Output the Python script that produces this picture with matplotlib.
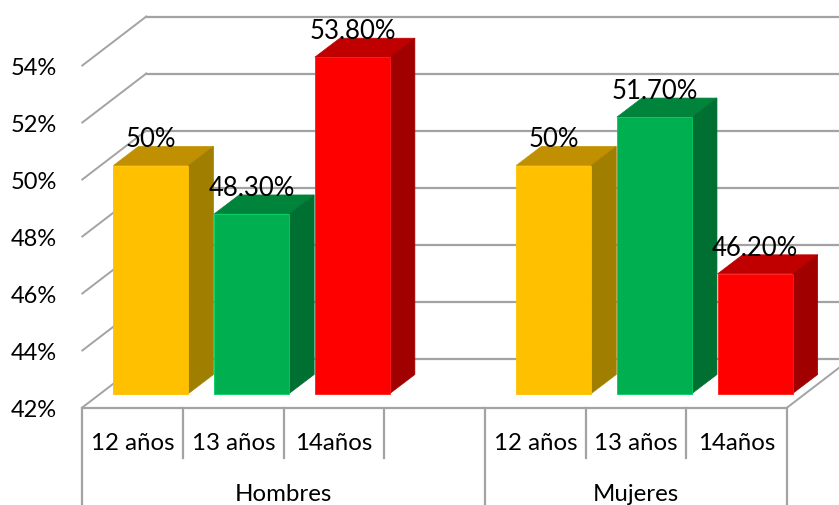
import matplotlib
matplotlib.use("Agg")
import matplotlib.pyplot as plt
from matplotlib.patches import Polygon

plt.rcParams['font.family'] = ['Lato', 'DejaVu Sans']

groups = ["Hombres", "Mujeres"]
ages = ["12 años", "13 años", "14años"]
hombres = [50, 48.3, 53.8]
mujeres = [50, 51.7, 46.2]
hombres_labels = ["50%", "48.30%", "53.80%"]
mujeres_labels = ["50%", "51.70%", "46.20%"]
y_ticks = [42, 44, 46, 48, 50, 52, 54]

front_colors = ["#FFC000", "#00B050", "#FF0000"]
top_colors = ["#C09000", "#00843C", "#C00000"]
side_colors = ["#A07F00", "#006F32", "#A00000"]
front_edges = ["#FFC000", "#00CF60", "#FF1A1A"]
grid_color = "#A3A3A3"

# scale of the axes: one category slot and one percent point, in pixels
SLOT = 100.7
POINT = 28.5
BAR_W = 0.745

# fake 3D depth, expressed in data units
WALL_DX = 64 / SLOT
WALL_DY = 49 / POINT
FLOOR_DX = 18.3 / SLOT      # front of the bars from the front of the floor
FLOOR_DY = 14 / POINT
BAR_DX = 25 / SLOT
BAR_DY = 19 / POINT


def draw_bar(ax, x, value, i):
    left = x - BAR_W / 2
    right = x + BAR_W / 2
    top = [(left, value), (right, value),
           (right + BAR_DX, value + BAR_DY), (left + BAR_DX, value + BAR_DY)]
    side = [(right, 42), (right + BAR_DX, 42 + BAR_DY),
            (right + BAR_DX, value + BAR_DY), (right, value)]
    ax.add_patch(Polygon(top, closed=True, facecolor=top_colors[i], edgecolor=top_colors[i], lw=0.5, zorder=3))
    ax.add_patch(Polygon(side, closed=True, facecolor=side_colors[i], edgecolor=side_colors[i], lw=0.5, zorder=3))
    ax.bar(x, value - 42, width=BAR_W, bottom=42, color=front_colors[i],
           edgecolor=front_edges[i], linewidth=0.6, zorder=3)


fig = plt.figure(figsize=(8.39, 5.06), dpi=100)
ax = fig.add_axes([0, 0, 1, 1])
ax.set_xlim(-82.3 / SLOT, (839 - 82.3) / SLOT)
ax.set_ylim(42 - 111.5 / POINT, 42 + 394.5 / POINT)
ax.axis("off")

n_slots = 7
floor = 42 - FLOOR_DY

# left wall and back wall gridlines
for v in y_ticks:
    y0 = v - FLOOR_DY
    ax.plot([0, WALL_DX], [y0, y0 + WALL_DY], color=grid_color, lw=1.4, zorder=1)
    ax.plot([WALL_DX, 10], [y0 + WALL_DY] * 2, color=grid_color, lw=1.6, zorder=1)

# floor edges
ax.plot([n_slots, n_slots + WALL_DX], [floor, floor + WALL_DY], color=grid_color, lw=1.4, zorder=1)
ax.plot([0, n_slots], [floor, floor], color=grid_color, lw=1.6, zorder=4)

# y axis labels
for v in y_ticks:
    ax.text(-25 / SLOT, v - FLOOR_DY - 1.5 / POINT, "%d%%" % v, ha="right", va="center",
            fontsize=17, color="black")

# bars, last one first so each front covers the side of its left neighbour
for offset, values, labels in ((0, hombres, hombres_labels), (4, mujeres, mujeres_labels)):
    for i in range(len(values) - 1, -1, -1):
        x = offset + i + 0.5 + FLOOR_DX
        draw_bar(ax, x, values[i], i)
        ax.text(x, values[i] + BAR_DY + 0.27, labels[i], ha="center", va="center",
                fontsize=18.5, color="black", zorder=5)

# two level category axis below the floor
short_end = 42 - 64 / POINT
for s in range(n_slots + 1):
    if s in (0, 4, n_slots):
        end = 42 - 112 / POINT
    else:
        end = short_end
    ax.plot([s, s], [floor, end], color=grid_color, lw=1.6, zorder=4)

for offset, name in ((0, groups[0]), (4, groups[1])):
    for i in range(len(ages)):
        ax.text(offset + i + 0.5, 42 - 49 / POINT, ages[i], ha="center", va="center",
                fontsize=17.3, color="black")
    center = (offset + (4 if offset == 0 else 7)) / 2
    ax.text(center, 42 - 99.5 / POINT, name, ha="center", va="center", fontsize=17.3, color="black")

fig.savefig("out.png", dpi=100)
